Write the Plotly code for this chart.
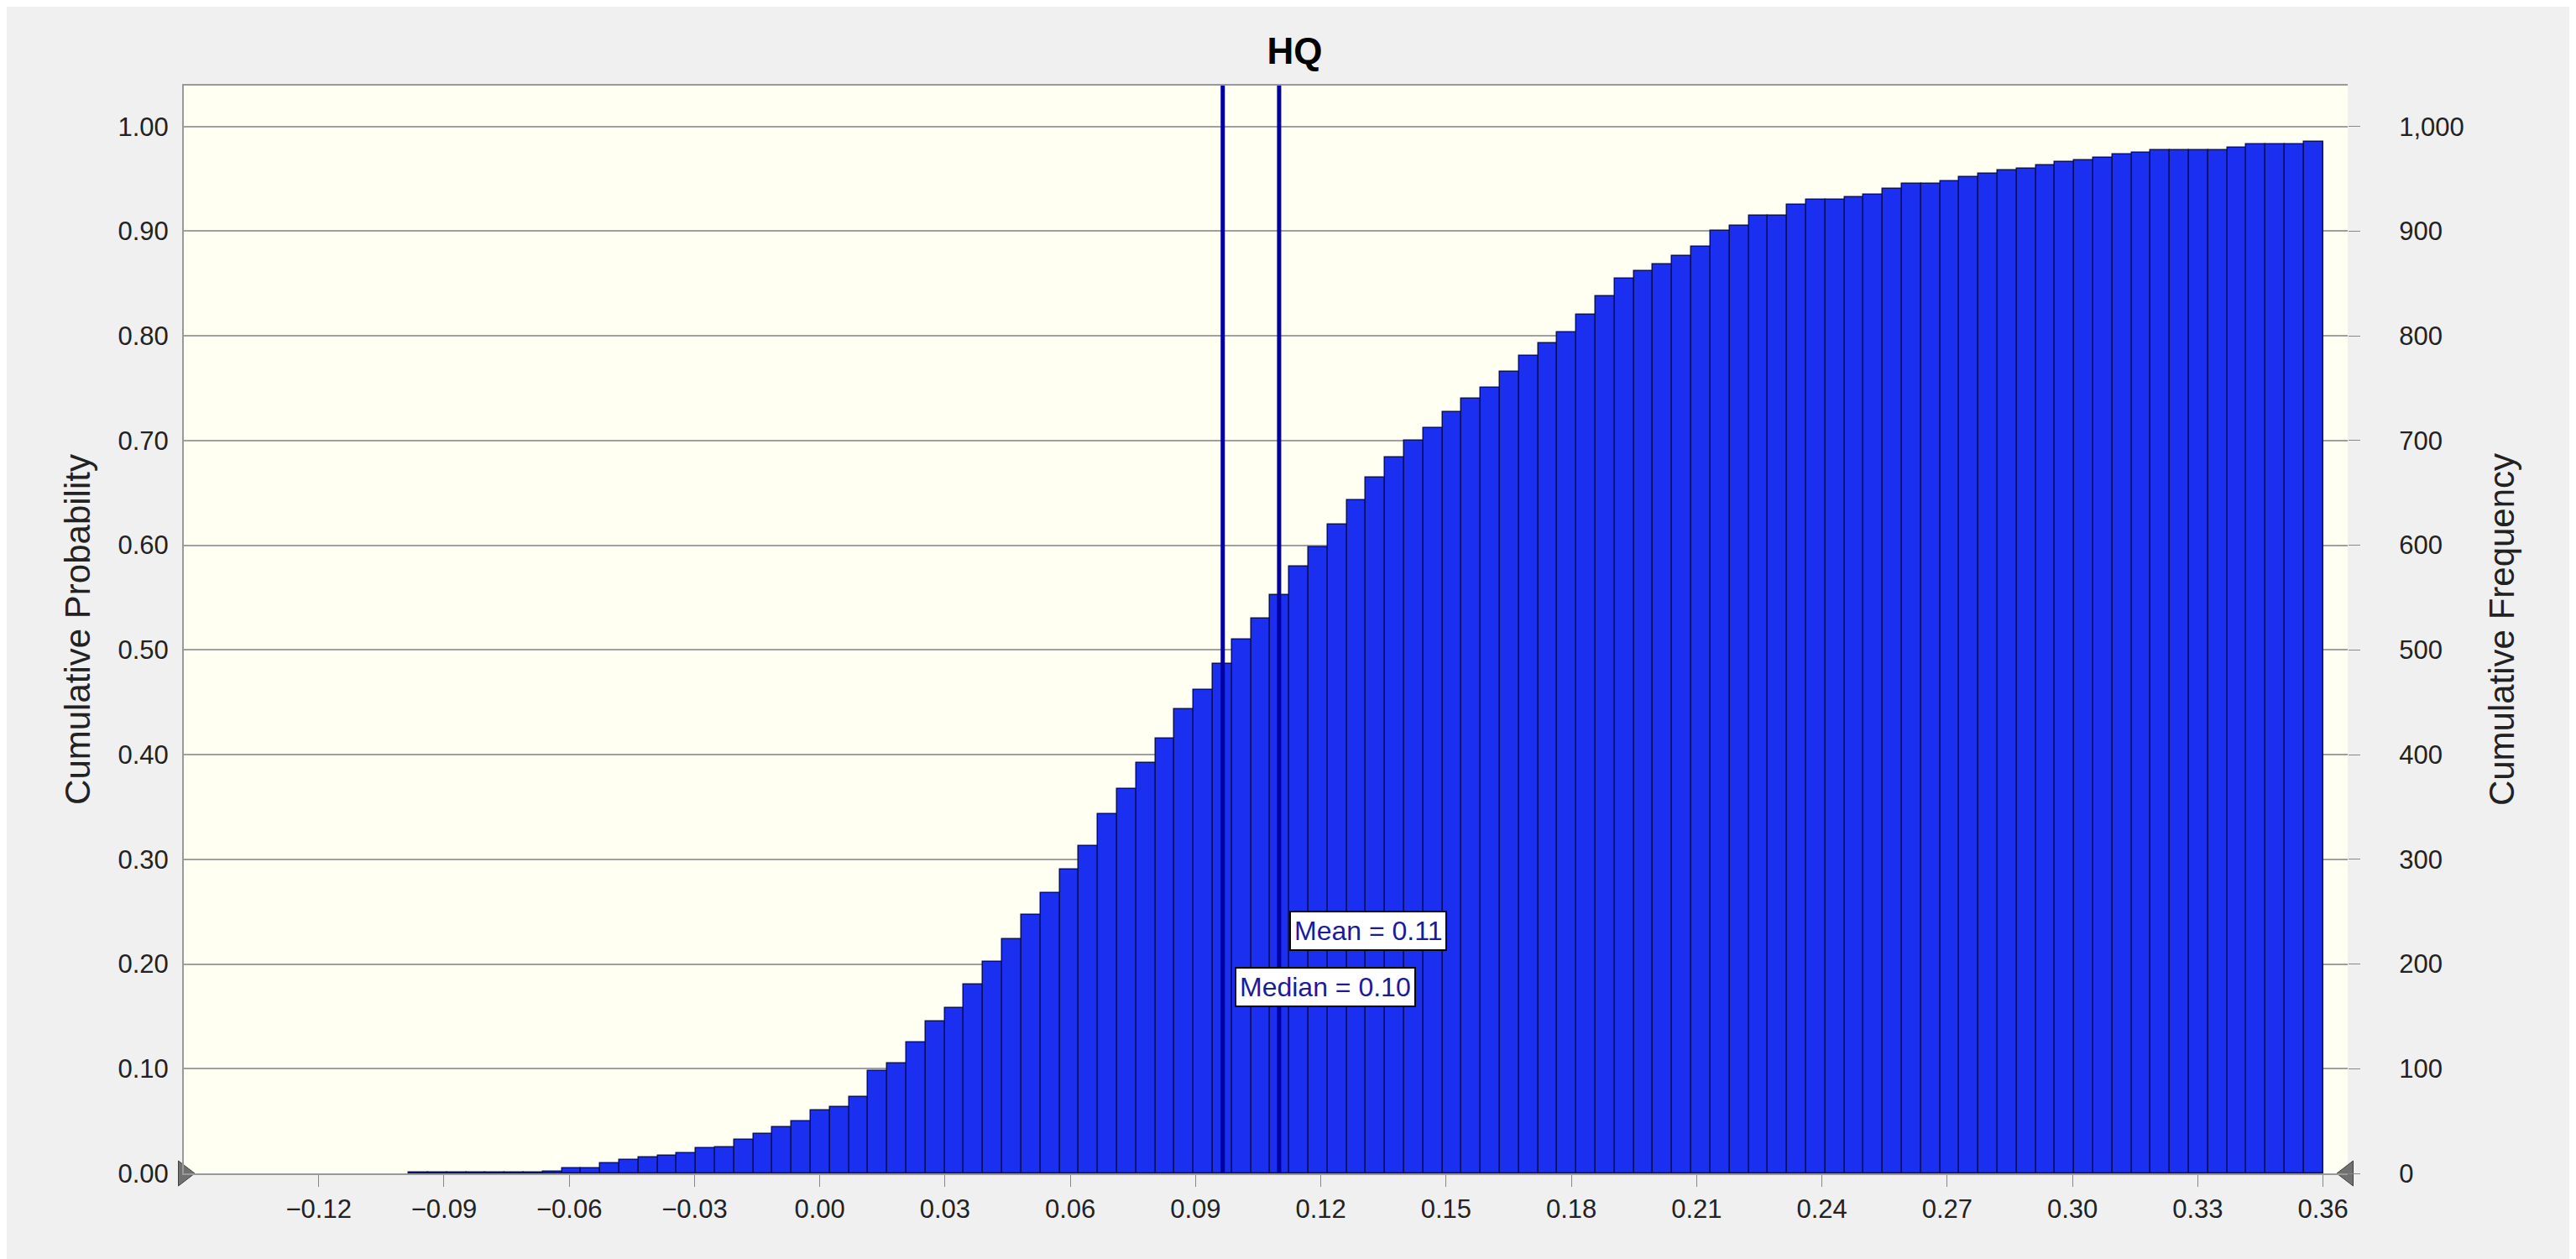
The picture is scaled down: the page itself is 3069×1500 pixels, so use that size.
import plotly.graph_objects as go

bin_start = -0.0984
bin_width = 0.004584
cum_freq = [1, 1, 1, 1, 1, 1, 1, 2, 5, 5,
            10, 13, 15, 17, 19, 24, 25, 32, 38, 44,
            50, 60, 63, 73, 98, 105, 125, 145, 158, 180,
            202, 224, 247, 268, 290, 313, 343, 367, 392, 415,
            443, 462, 487, 510, 530, 552, 580, 598, 620, 643,
            665, 684, 700, 712, 727, 740, 750, 766, 781, 793,
            803, 820, 838, 855, 862, 868, 876, 885, 900, 905,
            915, 915, 925, 930, 930, 932, 935, 940, 945, 945,
            948, 952, 955, 958, 960, 963, 966, 968, 970, 973,
            975, 977, 977, 977, 977, 980, 983, 983, 983, 985]
total_trials = 1000
mean_val = 0.110
median_val = 0.0965
x_ticks = [-0.12, -0.09, -0.06, -0.03, 0.00, 0.03, 0.06, 0.09, 0.12, 0.15, 0.18, 0.21, 0.24, 0.27, 0.30, 0.33, 0.36]
prob_ticks = [i / 10 for i in range(11)]
freq_ticks = list(range(0, 1001, 100))

centers = [bin_start + (i + 0.5) * bin_width for i in range(len(cum_freq))]
xmin, xmax = -0.1523, 0.3659
ytop = 1.039

font = "Liberation Sans, Arial, sans-serif"
fig = go.Figure()
fig.add_trace(go.Bar(x=centers, y=[c / total_trials for c in cum_freq], width=bin_width,
                     marker=dict(color="#1b2ff0", line=dict(color="#0a1060", width=1.5)),
                     showlegend=False, hoverinfo="skip"))
fig.add_trace(go.Scatter(x=[None], y=[None], yaxis="y2", showlegend=False))
for v in (median_val, mean_val):
    fig.add_trace(go.Scatter(x=[v, v], y=[0, ytop], mode="lines",
                             line=dict(color="#0000a0", width=5), showlegend=False, hoverinfo="skip"))
# axis-end triangles
fig.add_trace(go.Scatter(x=[xmin], y=[0], mode="markers", cliponaxis=False,
                         marker=dict(symbol="triangle-right", size=26, color="#707070",
                                     line=dict(color="#404040", width=1)),
                         showlegend=False, hoverinfo="skip"))
fig.add_trace(go.Scatter(x=[xmax], y=[0], mode="markers", cliponaxis=False,
                         marker=dict(symbol="triangle-left", size=26, color="#707070",
                                     line=dict(color="#404040", width=1)),
                         showlegend=False, hoverinfo="skip"))

fig.add_annotation(x=mean_val, y=0.232, text="Mean = 0.11", showarrow=False, xanchor="left",
                   xshift=12, font=dict(family=font, size=32, color="#1a1aa0"),
                   bgcolor="white", bordercolor="black", borderwidth=2, borderpad=4)
fig.add_annotation(x=median_val, y=0.178, text="Median = 0.10", showarrow=False, xanchor="left",
                   xshift=14, font=dict(family=font, size=32, color="#1a1aa0"),
                   bgcolor="white", bordercolor="black", borderwidth=2, borderpad=4)

fig.update_layout(
    width=3069, height=1500,
    paper_bgcolor="#f0f0f0", plot_bgcolor="#fffff2",
    margin=dict(l=211, r=280, t=94, b=110),
    bargap=0,
    title=dict(text="<b>HQ</b>", x=0.5, xanchor="center", y=0.975, yanchor="top",
               font=dict(family=font, size=44, color="black")),
    font=dict(family=font, size=31, color="#222"),
    xaxis=dict(range=[xmin, xmax], tickvals=x_ticks, tickformat=".2f", showgrid=False,
               ticks="outside", ticklen=14, tickcolor="#888", showline=True, linecolor="#999",
               linewidth=2, mirror=True, zeroline=False),
    yaxis=dict(range=[0, ytop], tickvals=prob_ticks, tickformat=".2f", showgrid=True,
               gridcolor="#a0a0a0", gridwidth=2, showline=True, linecolor="#999", linewidth=2,
               zeroline=False, title=dict(text="Cumulative Probability", font=dict(size=42), standoff=20),
               ticks="", ticklabelstandoff=10),
    yaxis2=dict(range=[0, ytop * total_trials], tickvals=freq_ticks, tickformat=",d", overlaying="y",
                side="right", showgrid=False, zeroline=False, showline=False,
                ticks="outside", ticklen=14, tickcolor="#888", ticklabelstandoff=40,
                title=dict(text="Cumulative Frequency", font=dict(size=42), standoff=30)),
)
fig.update_layout(yaxis2_title_text="Cumulative Frequency")
fig.write_html("out.html")
